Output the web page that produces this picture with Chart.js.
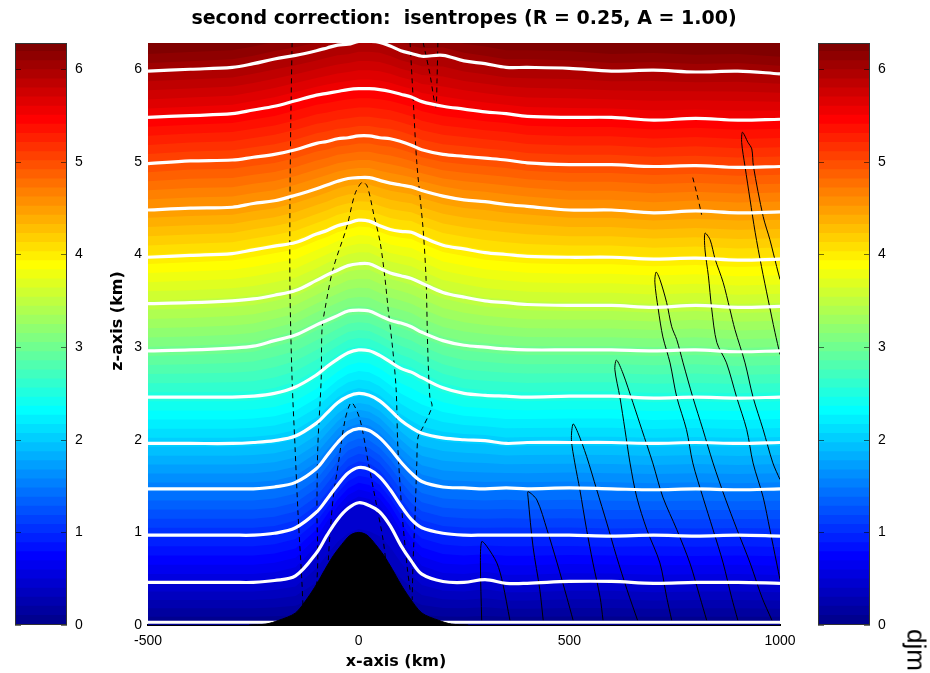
<!DOCTYPE html>
<html>
<head>
<meta charset="utf-8">
<script src="https://cdn.jsdelivr.net/npm/chart.js@4.4.0/dist/chart.umd.min.js"></script>
<style>
  html, body { margin: 0; padding: 0; background: #fff; }
  #wrap { position: relative; width: 930px; height: 673px; overflow: hidden; }
  canvas { position: absolute; top: 0; }
  #main { left: 0; }
  #cbLeft { left: 0; }
  #cbRight { left: 803px; }
  #sig {
    position: absolute; left: 916px; top: 650px;
    font: 26px "Liberation Sans", Arial, sans-serif; color: #000;
    transform: translate(-50%, -50%) rotate(90deg); white-space: nowrap;
  }
</style>
</head>
<body>
<div id="wrap">
  <canvas id="main" width="930" height="673"></canvas>
  <canvas id="cbLeft" width="110" height="673"></canvas>
  <canvas id="cbRight" width="110" height="673"></canvas>
  <div id="sig">djm</div>
</div>
<script>
// axis ticks
const xTicks = [-500, 0, 500, 1000];
const zTicks = [0, 1, 2, 3, 4, 5, 6];
const zMax = 2 * Math.PI;

// isentropes, heights (km) read along x (km)
const xKm = [-500, -400, -300, -250, -200, -150, -100, -75, -50, -25, 0, 25, 50, 75, 100, 125, 150, 200, 250, 300, 350, 400, 500, 600, 700, 800, 900, 1000];
const z00 = [0.03, 0.03, 0.03, 0.03, 0.03, 0.03, 0.03, 0.03, 0.03, 0.03, 0.03, 0.03, 0.03, 0.03, 0.03, 0.03, 0.03, 0.03, 0.03, 0.03, 0.03, 0.03, 0.03, 0.03, 0.03, 0.03, 0.03, 0.03];
const z05 = [0.46, 0.46, 0.46, 0.46, 0.48, 0.53, 0.78, 0.97, 1.14, 1.26, 1.32, 1.29, 1.22, 1.07, 0.86, 0.69, 0.55, 0.47, 0.46, 0.49, 0.45, 0.45, 0.47, 0.47, 0.45, 0.46, 0.46, 0.45];
const z10 = [0.97, 0.97, 0.97, 0.97, 0.99, 1.05, 1.22, 1.36, 1.51, 1.64, 1.70, 1.68, 1.60, 1.46, 1.29, 1.14, 1.05, 0.99, 0.97, 0.97, 0.97, 0.97, 0.97, 0.96, 0.97, 0.96, 0.97, 0.96];
const z15 = [1.47, 1.47, 1.47, 1.47, 1.49, 1.54, 1.69, 1.83, 1.97, 2.08, 2.12, 2.10, 2.02, 1.90, 1.76, 1.64, 1.55, 1.49, 1.48, 1.47, 1.48, 1.47, 1.48, 1.47, 1.46, 1.47, 1.46, 1.47];
const z20 = [1.96, 1.96, 1.96, 1.97, 1.99, 2.04, 2.18, 2.29, 2.40, 2.47, 2.50, 2.48, 2.42, 2.32, 2.21, 2.13, 2.07, 2.02, 2.00, 1.99, 1.96, 1.97, 1.97, 1.97, 1.96, 1.97, 1.96, 1.97];
const z25 = [2.46, 2.46, 2.46, 2.47, 2.50, 2.57, 2.70, 2.79, 2.87, 2.94, 2.97, 2.96, 2.91, 2.84, 2.77, 2.73, 2.67, 2.56, 2.50, 2.48, 2.47, 2.46, 2.47, 2.47, 2.45, 2.46, 2.45, 2.46];
const z30 = [2.96, 2.97, 2.99, 3.01, 3.07, 3.13, 3.24, 3.29, 3.34, 3.39, 3.40, 3.39, 3.34, 3.29, 3.26, 3.22, 3.16, 3.07, 3.02, 3.00, 2.98, 2.97, 2.97, 2.97, 2.96, 2.97, 2.95, 2.96];
const z35 = [3.47, 3.48, 3.50, 3.52, 3.56, 3.61, 3.72, 3.78, 3.83, 3.88, 3.90, 3.90, 3.85, 3.80, 3.77, 3.74, 3.69, 3.59, 3.54, 3.50, 3.48, 3.46, 3.45, 3.45, 3.43, 3.45, 3.43, 3.44];
const z40 = [3.97, 3.99, 4.01, 4.05, 4.09, 4.13, 4.22, 4.26, 4.31, 4.34, 4.37, 4.36, 4.31, 4.27, 4.25, 4.24, 4.19, 4.10, 4.06, 4.02, 4.00, 3.98, 3.97, 3.97, 3.95, 3.96, 3.94, 3.95];
const z45 = [4.48, 4.50, 4.51, 4.55, 4.58, 4.64, 4.71, 4.75, 4.79, 4.82, 4.83, 4.83, 4.80, 4.77, 4.75, 4.73, 4.69, 4.63, 4.59, 4.57, 4.54, 4.52, 4.48, 4.48, 4.45, 4.47, 4.45, 4.46];
const z50 = [4.98, 5.01, 5.02, 5.05, 5.08, 5.13, 5.20, 5.22, 5.25, 5.26, 5.28, 5.28, 5.26, 5.25, 5.22, 5.18, 5.13, 5.08, 5.06, 5.04, 5.02, 4.99, 4.97, 4.97, 4.95, 4.96, 4.94, 4.95];
const z55 = [5.48, 5.50, 5.52, 5.56, 5.60, 5.66, 5.72, 5.74, 5.76, 5.78, 5.79, 5.79, 5.78, 5.76, 5.73, 5.70, 5.65, 5.60, 5.57, 5.54, 5.52, 5.49, 5.48, 5.48, 5.45, 5.47, 5.45, 5.46];
const z60 = [5.98, 6.00, 6.02, 6.06, 6.11, 6.15, 6.20, 6.23, 6.26, 6.27, 6.30, 6.30, 6.29, 6.25, 6.20, 6.17, 6.14, 6.15, 6.09, 6.06, 6.02, 6.02, 6.01, 5.98, 5.99, 5.97, 5.98, 5.95];
const isoLevels = [0.5, 1.0, 1.5, 2.0, 2.5, 3.0, 3.5, 4.0, 4.5, 5.0, 5.5, 6.0];
const isoLines = [z05, z10, z15, z20, z25, z30, z35, z40, z45, z50, z55, z60];

// mountain profile
const mtnX = [-260, -220, -190, -150, -120, -100, -80, -60, -40, -20, 0, 20, 40, 60, 80, 100, 120, 150, 190, 220, 260];
const mtnZ = [0, 0.01, 0.05, 0.13, 0.30, 0.44, 0.60, 0.75, 0.87, 0.97, 1.00, 0.97, 0.87, 0.75, 0.60, 0.44, 0.30, 0.13, 0.05, 0.01, 0];

// dashed contours [x km, z km]
const dashA = [[-158, 6.29], [-161, 5.46], [-163, 4.59], [-163, 3.62], [-158, 2.65], [-151, 1.92], [-144, 1.21], [-135, 0.49], [-132, 0.19]];
const dashB = [[-101, 0.32], [-97, 0.70], [-99, 1.21], [-97, 1.92], [-89, 2.65], [-87, 3.19], [-80, 3.41], [-61, 3.84], [-28, 4.30], [-9, 4.65], [8, 4.78], [20, 4.74], [36, 4.43], [51, 4.13], [62, 3.76], [70, 3.41], [81, 2.97], [89, 2.54], [93, 1.92], [103, 1.21], [115, 0.63], [122, 0.38]];
const dashC = [[-72, 0.70], [-68, 0.99], [-60, 1.39], [-48, 1.75], [-32, 2.22], [-17, 2.40], [3, 2.22], [23, 1.75], [43, 1.28], [58, 0.92], [66, 0.63]];
const dashD = [[122, 6.29], [129, 5.71], [138, 4.99], [153, 4.27], [160, 3.73], [164, 2.97], [169, 2.46], [174, 2.36], [153, 2.14], [141, 2.03], [138, 1.75], [134, 1.21], [129, 0.67], [127, 0.27]];
const dashE = [[153, 6.29], [169, 5.95], [183, 5.59], [186, 5.89], [188, 6.29]];
const dashF = [[793, 4.83], [803, 4.65], [814, 4.43]];

// solid contours [x km, z km]
const solidA = [[292, 0.05], [289, 0.67], [292, 0.90], [304, 0.85], [328, 0.67], [342, 0.45], [359, 0.05]];
const solidB = [[438, 0.05], [430, 0.38], [414, 0.84], [402, 1.38], [402, 1.44], [423, 1.35], [447, 1.03], [471, 0.67], [494, 0.30], [509, 0.05]];
const solidC = [[580, 0.05], [573, 0.30], [556, 0.67], [541, 1.03], [525, 1.46], [513, 1.75], [505, 2.00], [509, 2.17], [520, 2.08], [541, 1.82], [565, 1.46], [589, 1.10], [612, 0.74], [637, 0.38], [662, 0.05]];
const solidD = [[743, 0.05], [731, 0.30], [715, 0.67], [684, 1.03], [660, 1.38], [644, 1.75], [632, 2.11], [620, 2.46], [608, 2.76], [612, 2.86], [627, 2.72], [651, 2.40], [672, 2.11], [698, 1.75], [722, 1.38], [755, 1.03], [786, 0.67], [810, 0.30], [826, 0.05]];
const solidE = [[900, 0.05], [885, 0.30], [865, 0.67], [841, 1.03], [817, 1.38], [793, 1.75], [778, 2.11], [755, 2.46], [739, 2.83], [722, 3.11], [711, 3.41], [703, 3.70], [706, 3.81], [715, 3.73], [731, 3.48], [743, 3.22], [755, 3.08], [770, 2.83], [793, 2.46], [817, 2.11], [841, 1.75], [869, 1.38], [898, 1.03], [929, 0.67], [957, 0.30], [981, 0.05]];
const solidF = [[1000, 0.49], [992, 0.67], [976, 1.03], [960, 1.38], [936, 1.75], [921, 2.11], [897, 2.46], [873, 2.83], [850, 3.05], [838, 3.41], [830, 3.77], [822, 4.05], [822, 4.23], [834, 4.16], [846, 3.95], [865, 3.70], [881, 3.41], [893, 3.19], [917, 2.83], [936, 2.46], [960, 2.11], [983, 1.75], [1000, 1.57]];
const solidG = [[1000, 2.92], [988, 3.16], [972, 3.51], [956, 3.87], [941, 4.24], [929, 4.59], [917, 4.95], [909, 5.21], [911, 5.32], [924, 5.21], [933, 5.14], [937, 4.95], [960, 4.41], [976, 4.16], [992, 3.87], [1000, 3.73]];

const FONT = '"Liberation Sans", Helvetica, Arial, sans-serif';
const FONT_WIDE = '"DejaVu Sans", "Liberation Sans", sans-serif';

// MATLAB jet(m)
function jet(m) {
  const n = Math.ceil(m / 4);
  const u = [];
  for (let i = 1; i <= n; i++) u.push(i / n);
  for (let i = 1; i < n; i++) u.push(1);
  for (let i = n; i >= 1; i--) u.push(i / n);
  const g0 = Math.ceil(n / 2) - (m % 4 === 1 ? 1 : 0);
  const cols = Array.from({ length: m }, () => [0, 0, 0]);
  u.forEach((val, j) => {
    const g = g0 + j + 1, r = g + n, b = g - n;
    if (g >= 1 && g <= m) cols[g - 1][1] = val;
    if (r >= 1 && r <= m) cols[r - 1][0] = val;
    if (b >= 1 && b <= m) cols[b - 1][2] = val;
  });
  return cols.map(c => `rgb(${Math.round(c[0] * 255)},${Math.round(c[1] * 255)},${Math.round(c[2] * 255)})`);
}
const jetColors = jet(64);

// height where the field reaches value v at column i (between isentropes)
function levelHeight(v, i) {
  if (v >= 6) return z60[i] + (v - 6);
  const j = Math.floor(v / 0.5), t = v / 0.5 - j;
  const lo = j === 0 ? 0 : isoLines[j - 1][i];
  const hi = isoLines[j][i];
  return lo + (hi - lo) * t;
}

const jetField = {
  id: 'jetField',
  beforeDatasetsDraw(chart) {
    const { ctx, chartArea: a, scales: { x, y } } = chart;
    const d = zMax / jetColors.length;
    ctx.save();
    ctx.beginPath();
    ctx.rect(a.left, a.top, a.right - a.left, a.bottom - a.top);
    ctx.clip();
    jetColors.forEach((c, k) => {
      ctx.beginPath();
      let lastY = a.bottom;
      xKm.forEach((xv, i) => {
        const h = k === 0 ? -1 : levelHeight(k * d, i);
        const px = x.getPixelForValue(xv), py = y.getPixelForValue(h);
        if (i === 0) ctx.moveTo(a.left - 2, py);
        ctx.lineTo(px, py);
        lastY = py;
      });
      ctx.lineTo(a.right + 2, lastY);
      ctx.lineTo(a.right + 2, a.top - 2);
      ctx.lineTo(a.left - 2, a.top - 2);
      ctx.closePath();
      ctx.fillStyle = c;
      ctx.fill();
    });
    ctx.restore();
  }
};

// axis titles sit off-centre in the original
const axisTitles = {
  id: 'axisTitles',
  afterDraw(chart) {
    const { ctx } = chart;
    ctx.save();
    ctx.fillStyle = '#000';
    ctx.font = `bold 16px ${FONT_WIDE}`;
    ctx.textAlign = 'center';
    ctx.textBaseline = 'middle';
    ctx.fillText('x-axis (km)', 396, 662);
    ctx.translate(118, 321);
    ctx.rotate(-Math.PI / 2);
    ctx.fillText('z-axis (km)', 0, 0);
    ctx.restore();
  }
};

const pts = arr => arr.map(([x, y]) => ({ x, y }));
const contour = (arr, dashed) => ({
  data: pts(arr), showLine: true, pointRadius: 0, borderColor: '#000',
  borderWidth: 1, borderDash: dashed ? [5, 4] : [], tension: 0.3, fill: false, order: 3
});

const datasets = [];
datasets.push({
  data: mtnX.map((x, i) => ({ x, y: mtnZ[i] })), showLine: true, pointRadius: 0,
  borderColor: '#000', borderWidth: 1, backgroundColor: '#000', fill: 'origin', tension: 0.3, order: 0
});
isoLines.forEach(line => {
  datasets.push({
    data: xKm.map((x, i) => ({ x, y: line[i] })), showLine: true, pointRadius: 0,
    borderColor: '#fff', borderWidth: 3.2, tension: 0.35, fill: false, order: 2
  });
});
datasets.push({
  data: xKm.map((x, i) => ({ x, y: z00[i] })), showLine: true, pointRadius: 0,
  borderColor: '#fff', borderWidth: 3, fill: false, order: 2
});
[dashA, dashB, dashC, dashD, dashE, dashF].forEach(c => datasets.push(contour(c, true)));
[solidA, solidB, solidC, solidD, solidE, solidF, solidG].forEach(c => datasets.push(contour(c, false)));

new Chart(document.getElementById('main'), {
  type: 'scatter',
  data: { datasets },
  options: {
    responsive: false, animation: false, devicePixelRatio: 1,
    layout: { padding: { left: 90, right: 150, top: 0, bottom: 0 } },
    plugins: {
      legend: { display: false }, tooltip: { enabled: false },
      title: {
        display: true, fullSize: false, color: '#000',
        text: 'second correction:  isentropes (R = 0.25, A = 1.00)',
        font: { family: FONT_WIDE, size: 19, weight: 'bold' },
        padding: { top: 8, bottom: 12.2 }
      }
    },
    scales: {
      x: {
        type: 'linear', min: -500, max: 1000,
        afterBuildTicks: s => { s.ticks = xTicks.map(v => ({ value: v })); },
        afterFit: s => { s.height = 48; },
        grid: { display: false, drawTicks: false },
        border: { display: true, color: '#000', width: 2 },
        ticks: { color: '#000', font: { family: FONT, size: 14 }, padding: 8, maxRotation: 0, callback: v => String(v) }
      },
      y: {
        type: 'linear', min: 0, max: zMax,
        afterBuildTicks: s => { s.ticks = zTicks.map(v => ({ value: v })); },
        afterFit: s => { s.width = 58; },
        grid: { display: false, drawTicks: false },
        border: { display: false },
        ticks: { color: '#000', font: { family: FONT, size: 14 }, padding: 6, callback: v => String(v) }
      }
    }
  },
  plugins: [jetField, axisTitles]
});

// colorbars
const cbFrame = {
  id: 'cbFrame',
  afterDraw(chart) {
    const { ctx, chartArea: a, scales: { y } } = chart;
    ctx.save();
    ctx.strokeStyle = 'rgba(0,0,0,0.55)';
    ctx.lineWidth = 1;
    zTicks.forEach(v => {
      const py = Math.round(y.getPixelForValue(v)) + 0.5;
      ctx.beginPath();
      ctx.moveTo(a.left, py); ctx.lineTo(a.left + 6, py);
      ctx.moveTo(a.right - 6, py); ctx.lineTo(a.right, py);
      ctx.stroke();
    });
    ctx.strokeStyle = '#333';
    ctx.strokeRect(a.left + 0.5, a.top + 0.5, a.right - a.left - 1, a.bottom - a.top - 1);
    ctx.restore();
  }
};

function colorbar(id) {
  const d = zMax / jetColors.length;
  return new Chart(document.getElementById(id), {
    type: 'bar',
    data: {
      labels: [''],
      datasets: jetColors.map((c, k) => ({
        data: [[k * d, (k + 1) * d]], backgroundColor: c, borderWidth: 0, inflateAmount: 1,
        grouped: false, barPercentage: 1, categoryPercentage: 1
      }))
    },
    options: {
      responsive: false, animation: false, devicePixelRatio: 1,
      layout: { padding: { left: 15, right: 0, top: 43, bottom: 48 } },
      plugins: { legend: { display: false }, tooltip: { enabled: false }, title: { display: false } },
      scales: {
        x: { display: false },
        y: {
          position: 'right', min: 0, max: zMax,
          afterBuildTicks: s => { s.ticks = zTicks.map(v => ({ value: v })); },
          afterFit: s => { s.width = 43; },
          grid: { display: false, drawTicks: false },
          border: { display: false },
          ticks: { color: '#000', font: { family: FONT, size: 14 }, padding: 8 }
        }
      }
    },
    plugins: [cbFrame]
  });
}
colorbar('cbLeft');
colorbar('cbRight');
</script>
</body>
</html>
